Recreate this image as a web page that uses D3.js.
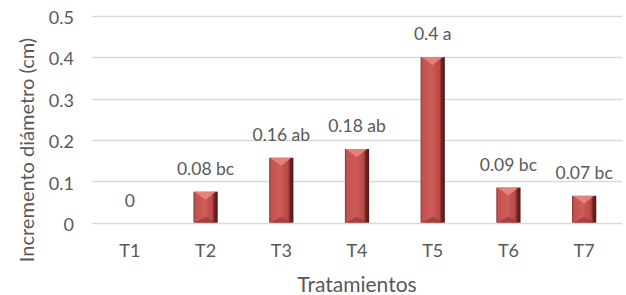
<!DOCTYPE html>
<html>
<head>
<meta charset="utf-8">
<script src="https://cdn.jsdelivr.net/npm/d3@7"></script>
<style>
  body { margin: 0; background: #fff; }
  svg text { font-family: Lato, "Open Sans", sans-serif; fill: #595959; }
</style>
</head>
<body>
<div id="chart"></div>
<script>
let width = 626;
let height = 295;

// data
let categories = ["T1", "T2", "T3", "T4", "T5", "T6", "T7"];
let values = [0, 0.075, 0.157, 0.178, 0.4, 0.085, 0.065];
let labels = ["0", "0.08 bc", "0.16 ab", "0.18 ab", "0.4 a", "0.09 bc", "0.07 bc"];
let yTicks = [0, 0.1, 0.2, 0.3, 0.4, 0.5];

let svg = d3.select("#chart")
            .append("svg")
            .attr("width", width)
            .attr("height", height)

let x = d3.scaleBand().domain(categories).range([92, 622]).paddingInner(0.68).paddingOuter(0.34)
let y = d3.scaleLinear().domain([0, 0.5]).range([222.7, 15.7])

let defs = svg.append("defs")
let grad = defs.append("linearGradient").attr("id", "barGrad")
grad.append("stop").attr("offset", "0%").attr("stop-color", "#8a3533")
grad.append("stop").attr("offset", "8%").attr("stop-color", "#c4524e")
grad.append("stop").attr("offset", "45%").attr("stop-color", "#cd5d59")
grad.append("stop").attr("offset", "78%").attr("stop-color", "#b84844")
grad.append("stop").attr("offset", "86%").attr("stop-color", "#6e2624")
grad.append("stop").attr("offset", "100%").attr("stop-color", "#4a1a19")

// gridlines
svg.append("g")
  .selectAll("line")
  .data(yTicks)
  .enter()
  .append("line")
  .attr("x1", 92)
  .attr("x2", 622)
  .attr("y1", d => Math.round(y(d)) + 0.5)
  .attr("y2", d => Math.round(y(d)) + 0.5)
  .attr("stroke", "#d9d9d9")
  .attr("stroke-width", 1.3)

// y tick labels
let yAxis = svg.append("g")
  .attr("transform", "translate(74,2)")
  .call(d3.axisLeft(y).tickValues(yTicks).tickSize(0).tickPadding(0).tickFormat(d => d === 0 ? "0" : d3.format(".1f")(d)))
yAxis.select(".domain").remove()
yAxis.selectAll("text").attr("font-size", 18).attr("fill", "#595959").attr("font-family", null)

// x tick labels
let xAxis = svg.append("g")
  .attr("transform", "translate(0,257)")
  .call(d3.axisBottom(x).tickSize(0).tickPadding(0))
xAxis.select(".domain").remove()
xAxis.selectAll("text").attr("font-size", 18).attr("fill", "#595959").attr("font-family", null).attr("dy", 0)

// bars
let bars = svg.append("g")
  .selectAll("g")
  .data(values.map((v, i) => ({cat: categories[i], v: v, label: labels[i]})))
  .enter()
  .append("g")
  .filter(d => d.v > 0)

bars.append("rect")
  .attr("x", d => x(d.cat))
  .attr("y", d => y(d.v))
  .attr("width", x.bandwidth())
  .attr("height", d => y(0) - y(d.v))
  .attr("fill", "url(#barGrad)")

// top bevel
bars.append("path")
  .attr("d", d => {
    let x0 = x(d.cat), w = x.bandwidth(), t = y(d.v), b = Math.min(8, (y(0) - y(d.v)) / 2)
    return `M${x0 + 1},${t} L${x0 + w - 2},${t} L${x0 + w / 2},${t + b} Z`
  })
  .attr("fill", "#e88682")
  .attr("opacity", 0.9)

// bottom bevel
bars.append("path")
  .attr("d", d => {
    let x0 = x(d.cat), w = x.bandwidth(), bt = y(0), b = Math.min(6, (y(0) - y(d.v)) / 3)
    return `M${x0 + 1},${bt} L${x0 + w - 2},${bt} L${x0 + w / 2},${bt - b} Z`
  })
  .attr("fill", "#8e3a38")
  .attr("opacity", 0.7)

// value labels
svg.append("g")
  .selectAll("text")
  .data(values)
  .enter()
  .append("text")
  .attr("x", (d, i) => x(categories[i]) + x.bandwidth() / 2)
  .attr("y", d => d === 0 ? y(d) - 16 : y(d) - 17)
  .attr("text-anchor", "middle")
  .attr("font-size", 17.5)
  .text((d, i) => labels[i])

// axis titles
svg.append("text")
  .attr("transform", "translate(34,150) rotate(-90)")
  .attr("text-anchor", "middle")
  .attr("font-size", 20)
  .text("Incremento diámetro (cm)")

svg.append("text")
  .attr("x", 357)
  .attr("y", 292)
  .attr("text-anchor", "middle")
  .attr("font-size", 21)
  .text("Tratamientos")
</script>
</body>
</html>
